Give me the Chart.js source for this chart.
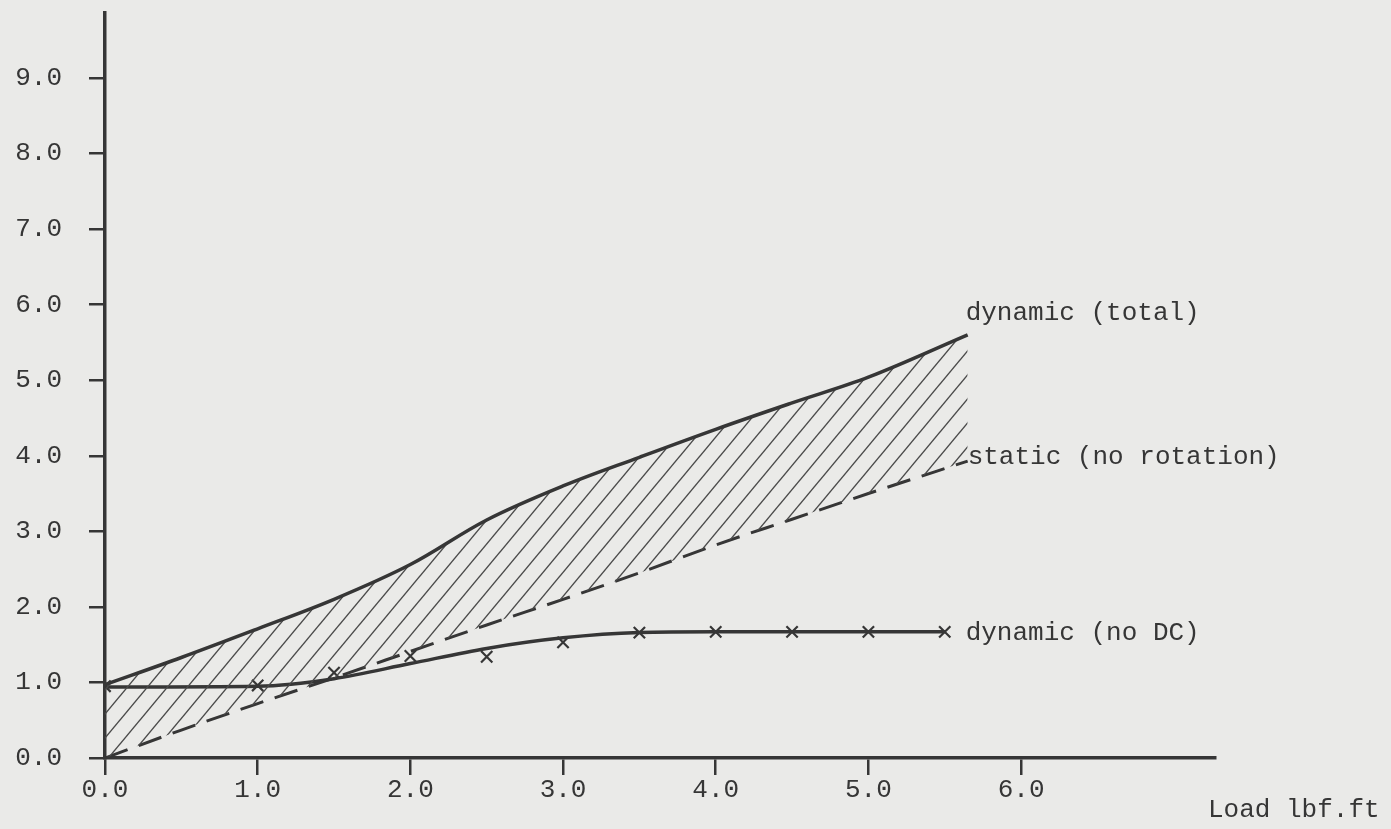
<!DOCTYPE html>
<html>
<head>
<meta charset="utf-8">
<script src="https://cdn.jsdelivr.net/npm/chart.js@4/dist/chart.umd.min.js"></script>
<style>
  body { margin: 0; background: #eaeae8; }
  canvas { display: block; background: #eaeae8; }
</style>
</head>
<body>
<canvas id="grafico" width="1391" height="829"></canvas>
<script>
// Datos
const cargas = [0, 0.5, 1.0, 1.5, 2.0, 2.5, 3.0, 3.5, 4.0, 4.5, 5.0, 5.65];
const dinamicoTotal = [0.97, 1.33, 1.71, 2.1, 2.56, 3.15, 3.6, 3.98, 4.35, 4.7, 5.04, 5.6];
const estatico = [0, 0.37, 0.72, 1.06, 1.41, 1.76, 2.1, 2.45, 2.82, 3.16, 3.5, 3.93];
const cargasSinDC = [0, 1.0, 1.5, 2.0, 2.5, 3.0, 3.5, 4.0, 4.5, 5.0, 5.5];
const lineaSinDC = [0.94, 0.95, 1.05, 1.25, 1.45, 1.59, 1.66, 1.67, 1.67, 1.67, 1.67];
const puntosSinDC = [0.95, 0.96, 1.13, 1.35, 1.34, 1.53, 1.66, 1.67, 1.67, 1.67, 1.67];
const ticksX = [0, 1, 2, 3, 4, 5, 6];
const ticksY = [0, 1, 2, 3, 4, 5, 6, 7, 8, 9];
const nombres = ['dynamic (total)', 'static (no rotation)', 'dynamic (no DC)'];
const tituloX = 'Load lbf.ft';

const tinta = '#363636';
const fuente = { family: "'Liberation Mono', 'DejaVu Sans Mono', monospace", size: 26 };

// Trama de rayado diagonal
function crearTrama() {
    const w = 20, h = 24;
    const c = document.createElement('canvas');
    c.width = w; c.height = h;
    const g = c.getContext('2d');
    g.strokeStyle = '#4a4a4a';
    g.lineWidth = 1.4;
    for (let n = 0; n <= 2; n++) {
        g.beginPath();
        g.moveTo((n - 1) * w - w / 2, h * 1.5);
        g.lineTo(n * w + w / 2, -h / 2);
        g.stroke();
    }
    return g.createPattern(c, 'repeat');
}

const aPuntos = (xs, ys) => xs.map((x, i) => ({ x: x, y: ys[i] }));

// Textos junto a las curvas y título del eje X
const rotulos = {
    id: 'rotulos',
    afterDraw(chart) {
        const ctx = chart.ctx;
        const sx = chart.scales.x, sy = chart.scales.y;
        ctx.save();
        ctx.fillStyle = tinta;
        ctx.font = `${fuente.size}px ${fuente.family}`;
        ctx.textBaseline = 'middle';
        ctx.textAlign = 'left';
        const xFin = sx.getPixelForValue(cargas[cargas.length - 1]) - 2;
        ctx.fillText(nombres[0], xFin, sy.getPixelForValue(dinamicoTotal[dinamicoTotal.length - 1]) - 22);
        ctx.fillText(nombres[1], xFin + 2, sy.getPixelForValue(estatico[estatico.length - 1]) - 4);
        ctx.fillText(nombres[2], xFin, sy.getPixelForValue(lineaSinDC[lineaSinDC.length - 1]) + 1);
        ctx.fillText(tituloX, chart.chartArea.right - 7, chart.chartArea.bottom + 52);
        ctx.restore();
    }
};

const ctx = document.getElementById('grafico').getContext('2d');
const grafico = new Chart(ctx, {
    type: 'line',
    data: {
        datasets: [
            {
                label: nombres[0],
                data: aPuntos(cargas, dinamicoTotal),
                borderColor: tinta,
                borderWidth: 3.5,
                pointRadius: 0,
                tension: 0.35,
                fill: '+1',
                backgroundColor: crearTrama()
            },
            {
                label: nombres[1],
                data: aPuntos(cargas, estatico),
                borderColor: tinta,
                borderWidth: 3,
                borderDash: [24, 12],
                pointRadius: 0,
                cubicInterpolationMode: 'monotone',
                fill: false
            },
            {
                label: nombres[2],
                data: aPuntos(cargasSinDC, lineaSinDC),
                borderColor: tinta,
                borderWidth: 3.5,
                pointRadius: 0,
                cubicInterpolationMode: 'monotone',
                fill: false
            },
            {
                label: nombres[2] + ' puntos',
                data: aPuntos(cargasSinDC, puntosSinDC),
                showLine: false,
                pointStyle: 'crossRot',
                pointRadius: 8,
                pointBorderWidth: 2.2,
                pointBorderColor: tinta,
                borderColor: tinta,
                fill: false
            }
        ]
    },
    options: {
        responsive: false,
        animation: false,
        layout: { padding: { top: 13, right: 176, left: 0, bottom: 0 } },
        plugins: {
            legend: { display: false },
            tooltip: { enabled: false }
        },
        scales: {
            x: {
                type: 'linear',
                min: 0,
                max: 7.27,
                afterBuildTicks: s => { s.ticks = ticksX.map(v => ({ value: v })); },
                afterFit: s => { s.height = 71; s.paddingLeft = 0; s.paddingRight = 0; },
                grid: { drawOnChartArea: false, tickLength: 17, tickColor: tinta, lineWidth: 2.5 },
                border: { display: true, color: tinta, width: 3.5 },
                ticks: {
                    color: tinta,
                    font: fuente,
                    padding: 0,
                    maxRotation: 0,
                    callback: v => Number(v).toFixed(1)
                }
            },
            y: {
                type: 'linear',
                min: 0,
                max: 9.86,
                afterBuildTicks: s => { s.ticks = ticksY.map(v => ({ value: v })); },
                afterFit: s => { s.width = 105; s.paddingTop = 0; s.paddingBottom = 0; },
                grid: { drawOnChartArea: false, tickLength: 16, tickColor: tinta, lineWidth: 2.5 },
                border: { display: true, color: tinta, width: 3.5 },
                ticks: {
                    color: tinta,
                    font: fuente,
                    padding: 27,
                    callback: v => Number(v).toFixed(1)
                }
            }
        }
    },
    plugins: [rotulos]
});
</script>
</body>
</html>
